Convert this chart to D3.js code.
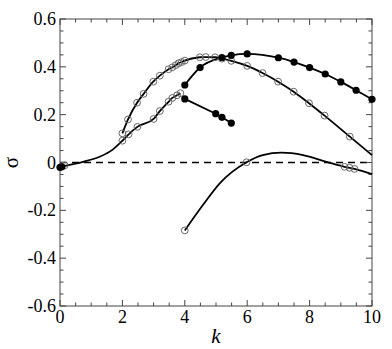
<!DOCTYPE html>
<html>
<head>
<meta charset="utf-8">
<script src="https://cdn.jsdelivr.net/npm/d3@7"></script>
</head>
<body style="margin:0;background:#fff">
<script>
// branch values: [k, sigma]
var upperOpen = [[2.0,0.122],[2.18,0.18],[2.47,0.25],[2.68,0.287],[2.99,0.338],[3.2,0.363],[3.48,0.39],
  [3.6,0.398],[3.71,0.407],[3.8,0.415],[3.9,0.42],[4.0,0.426],[4.48,0.44],[4.67,0.441],[4.97,0.44],
  [5.19,0.434],[5.49,0.425],[6.0,0.404],[6.49,0.374],[6.99,0.338],[7.49,0.296],[7.98,0.248],
  [8.48,0.196],[9.29,0.108],[10,0.031]];
var upperOpenMarks = upperOpen.slice(0, -1);

var lowerOpen = [[0,-0.02],[0.2,-0.013],[0.74,0.003],[1.27,0.024],[1.7,0.055],[2.0,0.091],[2.2,0.118],
  [2.48,0.149],[3.0,0.182],[3.2,0.215],[3.48,0.254],[3.6,0.27],[3.75,0.281],[3.86,0.29]];
var lowerOpenMarks = [[0.15,-0.012],[2.0,0.091],[2.2,0.118],[2.48,0.149],[3.0,0.182],[3.2,0.215],
  [3.48,0.254],[3.6,0.27],[3.75,0.281],[3.86,0.29]];

var filledMain = [[4.0,0.324],[4.49,0.397],[5.19,0.439],[5.49,0.448],[6.0,0.454],[7.0,0.438],[7.5,0.42],
  [8.0,0.397],[8.5,0.37],[9.0,0.337],[9.49,0.302],[10,0.264]];
var filledShort = [[4.0,0.266],[4.99,0.204],[5.19,0.189],[5.49,0.165]];
var filledOrigin = [[0,-0.02],[0.06,-0.018]];

var bottomOpen = [[4.0,-0.284],[4.58,-0.178],[5.12,-0.087],[5.98,0.001],[6.5,0.031],[7.1,0.041],
  [7.79,0.031],[8.54,0.003],[9.12,-0.018],[9.28,-0.022],[9.44,-0.027],[10,-0.049]];
var bottomOpenMarks = [[4.0,-0.284],[5.98,0.001],[9.12,-0.018],[9.28,-0.022],[9.44,-0.027]];

var xTicks = [0, 2, 4, 6, 8, 10];
var yTicks = [-0.6, -0.4, -0.2, 0, 0.2, 0.4, 0.6];
var yTickLabels = ["-0.6", "-0.4", "-0.2", "0", "0.2", "0.4", "0.6"];

var serif = "Liberation Serif";
var width = 392, height = 349;
var margin = {top: 19, right: 20, bottom: 43, left: 60};

var svg = d3.select("body").append("svg")
  .attr("width", width)
  .attr("height", height)
  .attr("font-family", serif);

var x = d3.scaleLinear().domain([0, 10]).range([margin.left, width - margin.right]);
var y = d3.scaleLinear().domain([-0.6, 0.6]).range([height - margin.bottom, margin.top]);

var x0 = x.range()[0], x1 = x.range()[1], y0 = y.range()[0], y1 = y.range()[1];

// zero line
svg.append("line")
  .attr("x1", x0).attr("x2", x1)
  .attr("y1", y(0)).attr("y2", y(0))
  .attr("stroke", "#000")
  .attr("stroke-width", 1.3)
  .attr("stroke-dasharray", "7,5");

// ticks on all four sides, pointing inward
var ax = svg.append("g").attr("stroke", "#444").attr("stroke-width", 1);
var xMinor = d3.range(0, 10.01, 0.5);
var yMinor = d3.range(-0.6, 0.601, 0.05);
xMinor.forEach(function(v) {
  var major = Math.abs(v / 2 - Math.round(v / 2)) < 1e-6;
  var len = major ? 6 : 3.5;
  ax.append("line").attr("x1", x(v)).attr("x2", x(v)).attr("y1", y0).attr("y2", y0 - len);
  ax.append("line").attr("x1", x(v)).attr("x2", x(v)).attr("y1", y1).attr("y2", y1 + len);
});
yMinor.forEach(function(v) {
  var major = Math.abs(v / 0.2 - Math.round(v / 0.2)) < 1e-6;
  var len = major ? 6 : 3.5;
  ax.append("line").attr("x1", x0).attr("x2", x0 + len).attr("y1", y(v)).attr("y2", y(v));
  ax.append("line").attr("x1", x1).attr("x2", x1 - len).attr("y1", y(v)).attr("y2", y(v));
});
ax.append("rect")
  .attr("x", x0).attr("y", y1)
  .attr("width", x1 - x0).attr("height", y0 - y1)
  .attr("fill", "none");

// tick labels
svg.selectAll(".xl").data(xTicks).enter().append("text")
  .attr("x", d => x(d)).attr("y", y0 + 17)
  .attr("text-anchor", "middle")
  .attr("font-family", serif)
  .style("font-family", serif)
  .attr("font-size", 18)
  .text(d => String(d));
svg.selectAll(".yl").data(yTicks).enter().append("text")
  .attr("x", x0 - 4).attr("y", d => y(d) + 6)
  .attr("text-anchor", "end")
  .attr("font-family", serif)
  .style("font-family", serif)
  .attr("font-size", 18)
  .text((d, i) => yTickLabels[i]);

// axis titles
svg.append("text")
  .attr("x", x(5)).attr("y", y0 + 37)
  .attr("text-anchor", "middle")
  .attr("font-family", serif)
  .style("font-family", serif)
  .attr("font-size", 21)
  .attr("font-style", "italic")
  .text("k");
svg.append("text")
  .attr("transform", "translate(18," + y(0) + ") rotate(-90)")
  .attr("text-anchor", "middle")
  .attr("font-family", serif)
  .style("font-family", serif)
  .attr("font-size", 21)
  .text("σ");

// curves
var line = d3.line()
  .x(d => x(d[0]))
  .y(d => y(d[1]))
  .curve(d3.curveMonotoneX);
var straight = d3.line().x(d => x(d[0])).y(d => y(d[1]));

[upperOpen, lowerOpen, filledMain, bottomOpen].forEach(function(s) {
  svg.append("path").attr("d", line(s))
    .attr("fill", "none").attr("stroke", "#000").attr("stroke-width", 1.8);
});
svg.append("path").attr("d", straight(filledShort))
  .attr("fill", "none").attr("stroke", "#000").attr("stroke-width", 1.8);

// markers
var open = upperOpenMarks.concat(lowerOpenMarks, bottomOpenMarks);
svg.selectAll(".open").data(open).enter().append("circle")
  .attr("cx", d => x(d[0])).attr("cy", d => y(d[1]))
  .attr("r", 3.4)
  .attr("fill", "none")
  .attr("stroke", "#666")
  .attr("stroke-width", 1);
var filled = filledMain.concat(filledShort, filledOrigin);
svg.selectAll(".filled").data(filled).enter().append("circle")
  .attr("cx", d => x(d[0])).attr("cy", d => y(d[1]))
  .attr("r", 3.6)
  .attr("fill", "#000");
</script>
</body>
</html>
